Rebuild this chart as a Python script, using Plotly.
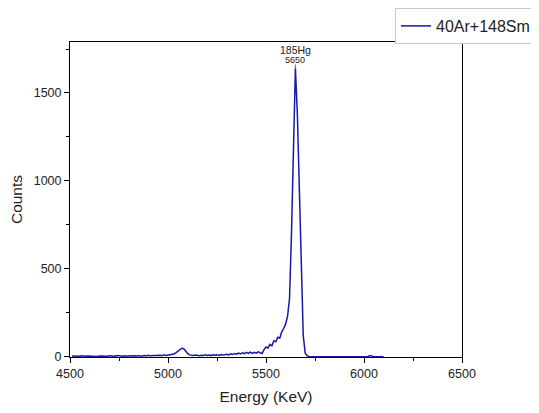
import plotly.graph_objects as go

energy = [4510, 4520, 4530, 4540, 4550, 4560, 4570, 4580, 4590, 4600,
          4610, 4620, 4630, 4640, 4650, 4660, 4670, 4680, 4690, 4700,
          4710, 4720, 4730, 4740, 4750, 4760, 4770, 4780, 4790, 4800,
          4810, 4820, 4830, 4840, 4850, 4860, 4870, 4880, 4890, 4900,
          4910, 4920, 4930, 4940, 4950, 4960, 4970, 4980, 4990, 5000,
          5010, 5020, 5030, 5040, 5050, 5060, 5070, 5080, 5090, 5100,
          5110, 5120, 5130, 5140, 5150, 5160, 5170, 5180, 5190, 5200,
          5210, 5220, 5230, 5240, 5250, 5260, 5270, 5280, 5290, 5300,
          5310, 5320, 5330, 5340, 5350, 5360, 5370, 5380, 5390, 5400,
          5410, 5420, 5430, 5440, 5450, 5460, 5470, 5480, 5490, 5500,
          5510, 5520, 5530, 5540, 5550, 5560, 5570, 5580, 5590, 5600,
          5610, 5620, 5630, 5640, 5650, 5660, 5670, 5680, 5690, 5700,
          5710, 5720, 5750, 5800, 5850, 5900, 5950, 6000, 6020, 6030,
          6040, 6050, 6100]
counts = [3, 2, 4, 3, 2, 5, 3, 2, 4, 3,
          2, 4, 3, 1, 3, 2, 4, 3, 2, 5,
          3, 4, 2, 6, 3, 4, 2, 5, 3, 4,
          6, 3, 5, 4, 7, 3, 5, 6, 4, 8,
          5, 6, 4, 9, 6, 8, 5, 10, 7, 9,
          12, 10, 15, 22, 30, 40, 48, 45, 30, 18,
          10, 8, 6, 9, 7, 5, 8, 6, 10, 7,
          9, 6, 11, 8, 10, 7, 12, 9, 11, 14,
          10, 16, 12, 18, 14, 20, 15, 22, 17, 24,
          18, 26, 19, 25, 20, 27, 22, 18, 40, 55,
          48, 70, 62, 90, 85, 110, 105, 140, 160, 185,
          230, 330, 700, 1250, 1640, 1380, 900, 420, 120, 20,
          5, 0, 0, 0, 0, 0, 0, 0, 0, 6,
          2, 0, 0]

series_name = "40Ar+148Sm"
peak_name = "185Hg"
peak_energy = 5650
peak_counts = 1640

fig = go.Figure()
fig.add_trace(go.Scatter(x=energy, y=counts, mode="lines", name=series_name,
                         line=dict(color="#1818a8", width=1.5)))

# small red marker line from label to peak
fig.add_annotation(x=peak_energy, y=peak_counts, ax=peak_energy, ay=1670,
                   xref="x", yref="y", axref="x", ayref="y",
                   showarrow=True, arrowhead=0, arrowcolor="#d04040", arrowwidth=1, text="")
fig.add_annotation(x=peak_energy, y=1742, text=peak_name, showarrow=False,
                   font=dict(size=10.5, color="#222"), xref="x", yref="y")
fig.add_annotation(x=peak_energy, y=1685, text=str(peak_energy), showarrow=False,
                   font=dict(size=9, color="#222"), xref="x", yref="y")

FONT = "Arial, Liberation Sans, sans-serif"
axis_common = dict(showline=True, linecolor="black", linewidth=1, mirror=True,
                   ticks="outside", ticklen=5, tickcolor="black", showgrid=False,
                   zeroline=False, automargin=False,
                   tickfont=dict(size=12.5, color="#222", family=FONT))
fig.update_xaxes(range=[4500, 6500], dtick=500, tick0=4500,
                 minor=dict(ticks="outside", ticklen=3, dtick=250, tickcolor="black", showgrid=False),
                 title=dict(text="Energy (KeV)", font=dict(size=15.5, color="#222", family=FONT), standoff=11),
                 **axis_common)
fig.update_yaxes(range=[-2, 1790], dtick=500, tick0=0,
                 minor=dict(ticks="outside", ticklen=3, dtick=250, tickcolor="black", showgrid=False),
                 title=dict(text="Counts", font=dict(size=15.5, color="#222", family=FONT), standoff=12),
                 **axis_common)

# page body has an 8px margin, so the figure is drawn 8px in from the window corner
W, H = 531, 405
fig.update_layout(
    width=W, height=H,
    margin=dict(l=61.7, r=77, t=34, b=56, autoexpand=False),
    plot_bgcolor="white", paper_bgcolor="white",
    font=dict(family=FONT, color="#222"),
    showlegend=True,
    legend=dict(xref="container", yref="container", x=387 / W, y=1 + 6 / H,
                xanchor="left", yanchor="top",
                bordercolor="#c8c8c8", borderwidth=1, font=dict(size=16, color="#222"),
                bgcolor="white", tracegroupgap=0),
)

fig.write_html("out.html")
